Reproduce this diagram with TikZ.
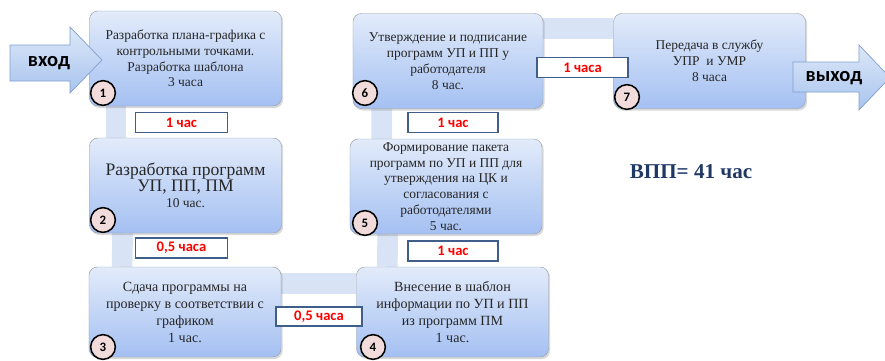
\documentclass[tikz,border=0pt]{standalone}
\usepackage{fontspec}
\setmainfont{Liberation Serif}
\newfontfamily\lblfont{Carlito}[BoldFont={Carlito Bold}]
\usepackage{xcolor}
\usetikzlibrary{positioning,shadows,backgrounds,calc}
\definecolor{boxtop}{HTML}{E2EBFA}
\definecolor{boxbot}{HTML}{A4C0F2}
\definecolor{boxedge}{HTML}{9A9FA8}
\definecolor{bandcol}{HTML}{D8E3F6}
\definecolor{lbledge}{HTML}{3F5F8A}
\definecolor{lbltext}{HTML}{FF0000}
\definecolor{numfill}{HTML}{F2DCDB}
\definecolor{arrtop}{HTML}{DDE8F8}
\definecolor{arrbot}{HTML}{A8C4EE}
\definecolor{arredge}{HTML}{7F9FCF}
\definecolor{totcol}{HTML}{1F3864}

\begin{document}
\begin{tikzpicture}[
    x=0.03cm, y=-0.03cm,
    stage/.style={rectangle, rounded corners=0.25cm, draw=boxedge, top color=boxtop, bottom color=boxbot,
        drop shadow={shadow xshift=0.05cm, shadow yshift=-0.06cm, opacity=0.3},
        minimum width=5.76cm, minimum height=2.85cm, align=center, inner sep=1pt, text=black!85,
        font=\fontsize{11.5}{13.5}\selectfont},
    band/.style={line width=0.62cm, draw=bandcol},
    lbl/.style={rectangle, draw=lbledge, line width=1.1pt, fill=white, text=lbltext,
        minimum width=2.76cm, minimum height=0.6cm, inner sep=0pt, font=\lblfont\bfseries\fontsize{12.5}{12.5}\selectfont},
    num/.style={circle, draw=black, line width=1.3pt, fill=numfill, minimum size=0.74cm, inner sep=0pt,
        font=\lblfont\bfseries\fontsize{11}{11}\selectfont},
    flowarrow/.style={draw=arredge, top color=arrtop, bottom color=arrbot, line width=0.6pt},
    arrtext/.style={font=\lblfont\bfseries\fontsize{17.5}{17.5}\selectfont, inner sep=0pt}
]
\useasboundingbox (0,0) rectangle (885,361);

\node[stage] (b1) at (185.5,58.5) {Разработка плана-графика с\\контрольными точками.\\Разработка шаблона\\3 часа};
\node[stage] (b2) at (185.5,185.5) {\fontsize{15}{17.5}\selectfont Разработка программ\\\fontsize{15}{17.5}\selectfont УП, ПП, ПМ\\\fontsize{11.5}{14}\selectfont 10 час.};
\node[stage, minimum height=2.7cm, font=\fontsize{12}{14.5}\selectfont] (b3) at (185,312) {Сдача программы на\\проверку в соответствии с\\графиком\\1 час.};
\node[stage, minimum height=2.7cm, font=\fontsize{12}{14.5}\selectfont] (b4) at (452.5,312) {Внесение в шаблон\\информации по УП и ПП\\из программ ПМ\\1 час.};
\node[stage] (b5) at (446,186.5) {Формирование пакета\\программ по УП и ПП для\\утверждения на ЦК и\\согласования с\\работодателями\\5 час.};
\node[stage, minimum width=5.7cm] (b6) at (448,61) {Утверждение и подписание\\программ УП и ПП у\\работодателя\\8 час.};
\node[stage] (b7) at (709.5,61) {Передача в службу\\УПР\enspace и УМР\\8 часа};

\begin{scope}[on background layer]
\draw[band] ([xshift=0.8cm]b1.south west) -- ([xshift=0.8cm]b2.north west);
\draw[band] ([xshift=1cm]b2.south west) -- ([xshift=1cm]b3.north west);
\draw[band] ([yshift=-0.51cm]b3.north east) -- ([yshift=-0.51cm]b4.north west);
\draw[band] ([xshift=0.93cm]b4.north west) -- ([xshift=1.14cm]b5.south west);
\draw[band] ([xshift=0.96cm]b5.north west) -- ([xshift=0.87cm]b6.south west);
\draw[band] ([yshift=-0.45cm]b6.north east) -- ([yshift=-0.45cm]b7.north west);
\end{scope}

\node[lbl] (t12) at (181.5,122.5) {1 час};
\node[lbl] (t23) at (181.5,248) {0,5 часа};
\node[lbl, minimum width=2.58cm, minimum height=0.57cm] (t34) at (319,316.5) {0,5 часа};
\node[lbl, minimum width=2.7cm] (t45) at (453,251) {1 час};
\node[lbl, minimum width=2.7cm] (t56) at (453,122.5) {1 час};
\node[lbl, minimum width=2.73cm] (t67) at (582.5,67.5) {1 часа};

\node[num] (n1) at (103,93) {1};
\node[num] (n2) at (103,220) {2};
\node[num] (n3) at (103,347) {3};
\node[num] (n4) at (373,347) {4};
\node[num] (n5) at (365,223) {5};
\node[num] (n6) at (365,93) {6};
\node[num] (n7) at (627,97) {7};

\path[flowarrow] (10,45) -- (70,45) -- (70,27) -- (102,60) -- (70,93) -- (70,81) -- (10,81) -- cycle;
\node[arrtext] (vhod) at (49,63) {вход};
\path[flowarrow] (793,62) -- (859,62) -- (859,45) -- (890,77.5) -- (859,110) -- (859,92) -- (793,92) -- cycle;
\node[arrtext] (vyhod) at (834,78) {выход};

\node[font=\bfseries\fontsize{18}{18}\selectfont, text=totcol] (total) at (691,172) {ВПП= 41 час};

\end{tikzpicture}
\end{document}
